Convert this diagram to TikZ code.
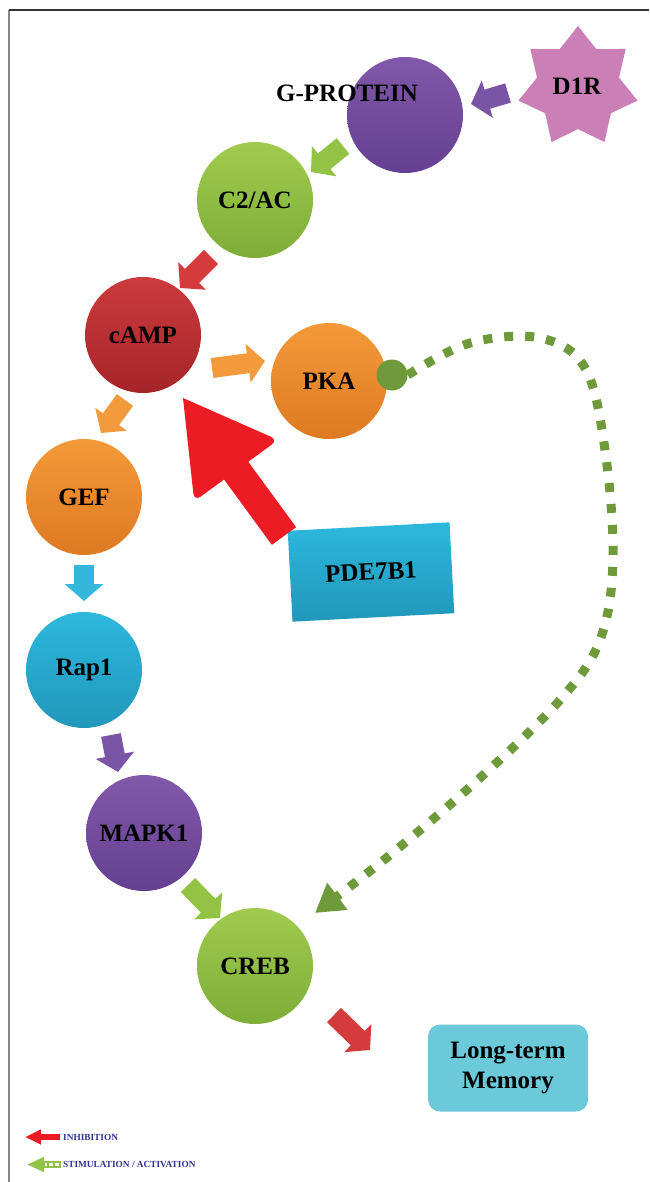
\documentclass[tikz,border=0pt]{standalone}
\usepackage{fontspec}
\setmainfont{Liberation Serif}
\usetikzlibrary{arrows.meta,shapes.geometric,calc}
\definecolor{purT}{HTML}{8158AA}\definecolor{purB}{HTML}{654090}
\definecolor{grnT}{HTML}{A0CB4E}\definecolor{grnB}{HTML}{7EAD38}
\definecolor{redT}{HTML}{CC3B3D}\definecolor{redB}{HTML}{A52429}
\definecolor{oraT}{HTML}{F4993A}\definecolor{oraB}{HTML}{DE7A22}
\definecolor{cyaT}{HTML}{2DB8DE}\definecolor{cyaB}{HTML}{2297BA}
\definecolor{starpink}{HTML}{CB7FB7}
\definecolor{ltmcol}{HTML}{6BC9DA}
\definecolor{bigred}{HTML}{EC1C24}
\definecolor{dashgreen}{HTML}{6F9A3C}
\definecolor{navy}{HTML}{2E3192}
\definecolor{apurple}{HTML}{7A55A6}
\definecolor{agreen}{HTML}{92C344}
\definecolor{ared}{HTML}{D43B3D}
\definecolor{aorange}{HTML}{F29A3C}
\definecolor{acyan}{HTML}{33B7DC}
\definecolor{framegray}{HTML}{888888}
\begin{document}
\begin{tikzpicture}[x=1pt,y=-1pt,
  ball/.style={circle, minimum size=116pt, inner sep=0pt, font=\bfseries\fontsize{25}{28}\selectfont},
  lbl/.style={font=\bfseries\fontsize{25}{28}\selectfont},
  blockarrow/.style={line width=20pt, draw=#1, -{Triangle[width=38pt,length=17pt]}},
  legtext/.style={font=\bfseries\fontsize{9.3}{10}\selectfont, text=navy, anchor=west, inner sep=0pt}
]
\useasboundingbox (0,0) rectangle (649,1182);
\fill[white] (0,0) rectangle (649,1182);
% frame
\draw[framegray, line width=2.5pt] (9,10) -- (9,1182);
\draw[black!80, line width=1.5pt] (9,10) -- (649,10);

% nodes
\node[star, star points=7, star point ratio=1.45, minimum size=122pt, inner sep=0pt, fill=starpink, lbl] (d1r) at (578,87) {};
\node[lbl] at (577,86) {D1R};
\node[ball, top color=purT, bottom color=purB] (gp) at (405,115) {};
\node[lbl] (gplbl) at (347,93) {G-PROTEIN};
\node[ball, top color=grnT, bottom color=grnB] (c2ac) at (255,200) {C2/AC};
\node[ball, top color=redT, bottom color=redB] (camp) at (143,335) {cAMP};
\node[ball, top color=oraT, bottom color=oraB] (pka) at (329,381) {PKA};
\node[ball, top color=oraT, bottom color=oraB] (gef) at (84,497) {GEF};
\node[ball, top color=cyaT, bottom color=cyaB] (rap) at (84,670) {Rap1};
\node[ball, top color=purT, bottom color=purB] (mapk) at (144,833) {MAPK1};
\node[ball, top color=grnT, bottom color=grnB] (creb) at (255,966) {CREB};
\node[draw=none, top color=cyaT, bottom color=cyaB, minimum width=162pt, minimum height=91pt, rotate=3, lbl] (pde) at (371,572) {PDE7B1};
\node[fill=ltmcol, rounded corners=12pt, minimum width=160pt, minimum height=87pt, align=center, lbl, font=\bfseries\fontsize{25}{30}\selectfont] (ltm) at (508,1068) {Long-term\\Memory};
\node[circle, fill=dashgreen, minimum size=31pt, inner sep=0pt] (dot) at (392,375) {};

% block arrows between nodes
\coordinate (a1s) at (508,93);  \coordinate (a1e) at (471,104);
\coordinate (a2s) at (343,146); \coordinate (a2e) at (311,172);
\coordinate (a3s) at (211,257); \coordinate (a3e) at (180,288);
\coordinate (a4s) at (212,368); \coordinate (a4e) at (265,361);
\coordinate (a5s) at (125,400); \coordinate (a5e) at (101,433);
\coordinate (a6s) at (84,565);  \coordinate (a6e) at (84,601);
\coordinate (a7s) at (111,735); \coordinate (a7e) at (118,772);
\coordinate (a8s) at (188,885); \coordinate (a8e) at (220,918);
\coordinate (a9s) at (334,1015);\coordinate (a9e) at (370,1050);
\draw[blockarrow=apurple] (a1s) -- (a1e);
\draw[blockarrow=agreen] (a2s) -- (a2e);
\draw[blockarrow=ared] (a3s) -- (a3e);
\draw[blockarrow=aorange] (a4s) -- (a4e);
\draw[blockarrow=aorange] (a5s) -- (a5e);
\draw[blockarrow=acyan] (a6s) -- (a6e);
\draw[blockarrow=apurple] (a7s) -- (a7e);
\draw[blockarrow=agreen] (a8s) -- (a8e);
\draw[blockarrow=ared] (a9s) -- (a9e);

% big inhibition arrow PDE7B1 -> cAMP
\coordinate (rt) at (284,536);
\coordinate (T) at (183,398);
\coordinate (B) at ($(T)!90pt!(rt)$);
\coordinate (C1) at ($(B)!52pt!-90:(rt)$);
\coordinate (C2) at ($(B)!52pt!90:(rt)$);
\coordinate (H1) at ($(B)!15pt!-90:(rt)$);
\coordinate (H2) at ($(B)!15pt!90:(rt)$);
\coordinate (S1) at ($(rt)!15pt!90:(T)$);
\coordinate (S2) at ($(rt)!15pt!-90:(T)$);
\fill[bigred] (T) [rounded corners=8pt] -- (C2) [sharp corners] -- (H2) -- (S2) -- (S1) -- (H1) [rounded corners=8pt] -- (C1) [sharp corners] -- cycle;

% dashed stimulation curve PKA -> CREB
\coordinate (dend) at (315,913);
\draw[dashgreen, line width=9pt, dash pattern=on 9pt off 12pt, -{Triangle[width=32pt,length=28pt]}]
  plot[smooth, tension=0.6] coordinates {(dot.east) (470,343) (540,338) (585,368) (605,450) (613,560) (600,640) (560,700) (480,778) (390,855) (dend)};

% legend
\coordinate (l1s) at (60,1137); \coordinate (l1e) at (25,1137);
\draw[bigred, line width=6pt, -{Triangle[width=14pt,length=16pt]}] (l1s) -- (l1e);
\node[legtext] (inh) at (63,1137) {INHIBITION};
\coordinate (l2s) at (61,1164.5); \coordinate (l2e) at (27,1164.5);
\draw[agreen, line width=7pt, -{Triangle[width=14pt,length=17pt]}] (l2s) -- (l2e);
\draw[white, line width=3pt, dash pattern=on 4pt off 2pt] (59,1164.5) -- (45,1164.5);
\node[legtext] (stim) at (63,1164.5) {STIMULATION / ACTIVATION};
\end{tikzpicture}
\end{document}
